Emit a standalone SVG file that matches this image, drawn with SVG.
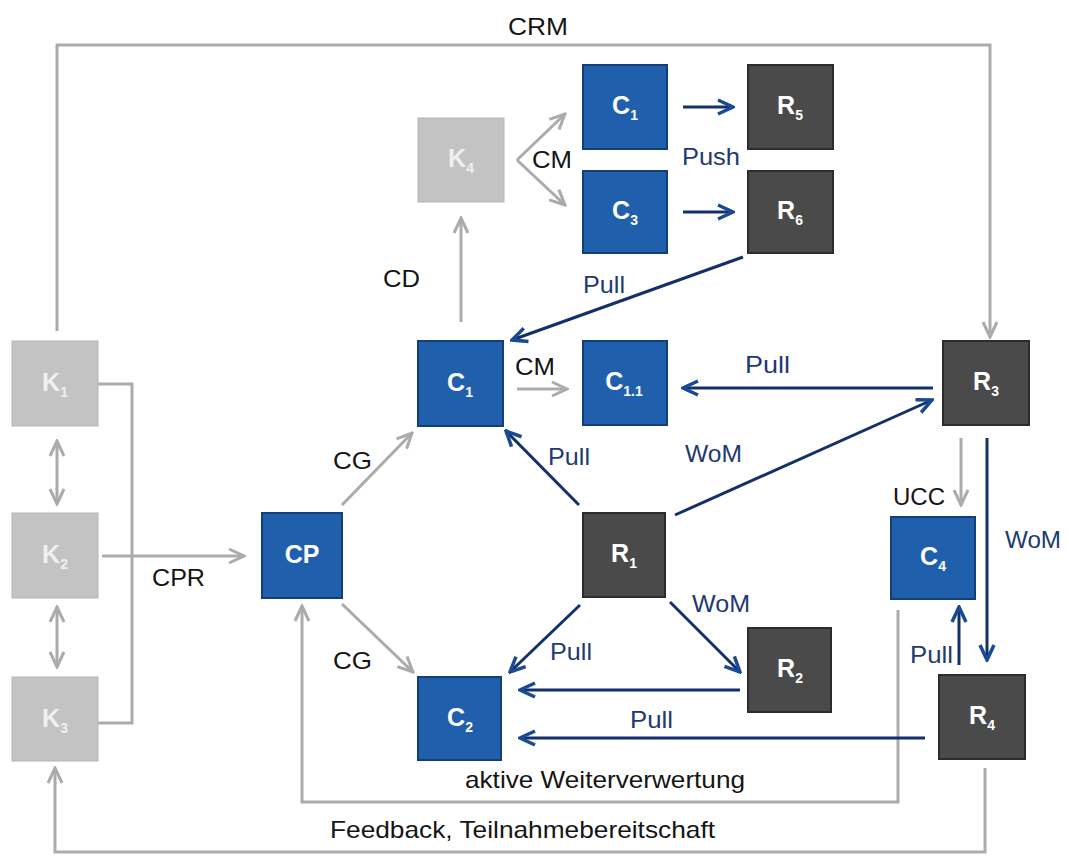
<svg xmlns="http://www.w3.org/2000/svg" width="1069" height="858" viewBox="0 0 1069 858">
<style>
.bl{fill:#1f5fab;stroke:#123f78;stroke-width:2}
.dk{fill:#4a4a4a;stroke:#2c2c2c;stroke-width:2}
.lg{fill:#c3c3c3;stroke:#b5b5b5;stroke-width:1}
.nl{font-family:"Liberation Sans",Arial,sans-serif;font-weight:bold;font-size:25px;fill:#fff;text-anchor:middle}
.kl{fill:#f0f0f0}
.sub{font-size:14px}
.g{fill:none;stroke:#ababab;stroke-width:3}
.n{fill:none;stroke:#14306b;stroke-width:3}
.t{font-family:"Liberation Sans",Arial,sans-serif;font-size:24px;fill:#151515}
.tb{fill:#1f3a72}
</style>
<defs>
<marker id="ag" viewBox="0 0 20 20" refX="18" refY="10" markerWidth="20" markerHeight="20" markerUnits="userSpaceOnUse" orient="auto-start-reverse"><path d="M3,3 L18,10 L3,17" fill="none" stroke="#ababab" stroke-width="3"/></marker>
<marker id="an" viewBox="0 0 20 20" refX="18" refY="10" markerWidth="20" markerHeight="20" markerUnits="userSpaceOnUse" orient="auto"><path d="M3,3 L18,10 L3,17" fill="none" stroke="#1a4a92" stroke-width="3.5"/></marker>
</defs>
<g id="connectors">
<polyline class="g" points="57,331 57,45 990,45 990,337" marker-end="url(#ag)"/>
<line class="g" x1="57" y1="441" x2="57" y2="504" marker-start="url(#ag)" marker-end="url(#ag)"/>
<line class="g" x1="57" y1="607" x2="57" y2="667" marker-start="url(#ag)" marker-end="url(#ag)"/>
<polyline class="g" points="98,384 132,384 132,723 98,723"/>
<line class="g" x1="102" y1="556" x2="244" y2="556" marker-end="url(#ag)"/>
<line class="g" x1="342" y1="505" x2="412" y2="433" marker-end="url(#ag)"/>
<line class="g" x1="342" y1="604" x2="413" y2="672" marker-end="url(#ag)"/>
<line class="g" x1="461" y1="322" x2="461" y2="218" marker-end="url(#ag)"/>
<line class="g" x1="517" y1="160" x2="565" y2="114" marker-end="url(#ag)"/>
<line class="g" x1="517" y1="160" x2="565" y2="205" marker-end="url(#ag)"/>
<line class="g" x1="517" y1="389" x2="567" y2="389" marker-end="url(#ag)"/>
<line class="g" x1="961" y1="438" x2="961" y2="505" marker-end="url(#ag)"/>
<polyline class="g" points="898,610 898,802 302,802 302,606" marker-end="url(#ag)"/>
<polyline class="g" points="985,768 985,852 55,852 55,768" marker-end="url(#ag)"/>
<line class="n" x1="683" y1="107" x2="733" y2="107" marker-end="url(#an)"/>
<line class="n" x1="683" y1="212" x2="733" y2="212" marker-end="url(#an)"/>
<line class="n" x1="743" y1="257" x2="512" y2="340" marker-end="url(#an)"/>
<line class="n" x1="933" y1="388" x2="683" y2="388" marker-end="url(#an)"/>
<line class="n" x1="579" y1="505" x2="506" y2="431" marker-end="url(#an)"/>
<line class="n" x1="675" y1="515" x2="932" y2="400" marker-end="url(#an)"/>
<line class="n" x1="580" y1="605" x2="510" y2="672" marker-end="url(#an)"/>
<line class="n" x1="670" y1="602" x2="740" y2="672" marker-end="url(#an)"/>
<line class="n" x1="740" y1="690" x2="520" y2="690" marker-end="url(#an)"/>
<line class="n" x1="925" y1="738" x2="520" y2="738" marker-end="url(#an)"/>
<line class="n" x1="987" y1="438" x2="987" y2="660" marker-end="url(#an)"/>
<line class="n" x1="959" y1="665" x2="959" y2="607" marker-end="url(#an)"/>
</g>
<g id="labels">
<text class="t" x="508" y="35" textLength="60" lengthAdjust="spacingAndGlyphs">CRM</text>
<text class="t" x="532" y="168" textLength="40" lengthAdjust="spacingAndGlyphs">CM</text>
<text class="t tb" x="682" y="165" textLength="58" lengthAdjust="spacingAndGlyphs">Push</text>
<text class="t" x="383" y="287" textLength="37" lengthAdjust="spacingAndGlyphs">CD</text>
<text class="t tb" x="583" y="293" textLength="42" lengthAdjust="spacingAndGlyphs">Pull</text>
<text class="t" x="515" y="375" textLength="40" lengthAdjust="spacingAndGlyphs">CM</text>
<text class="t tb" x="745" y="373" textLength="45" lengthAdjust="spacingAndGlyphs">Pull</text>
<text class="t" x="333" y="469" textLength="39" lengthAdjust="spacingAndGlyphs">CG</text>
<text class="t tb" x="548" y="465" textLength="42" lengthAdjust="spacingAndGlyphs">Pull</text>
<text class="t tb" x="685" y="462" textLength="57" lengthAdjust="spacingAndGlyphs">WoM</text>
<text class="t" x="893" y="505" textLength="52" lengthAdjust="spacingAndGlyphs">UCC</text>
<text class="t tb" x="1005" y="548" textLength="56" lengthAdjust="spacingAndGlyphs">WoM</text>
<text class="t" x="152" y="586" textLength="53" lengthAdjust="spacingAndGlyphs">CPR</text>
<text class="t tb" x="692" y="612" textLength="58" lengthAdjust="spacingAndGlyphs">WoM</text>
<text class="t tb" x="550" y="660" textLength="42" lengthAdjust="spacingAndGlyphs">Pull</text>
<text class="t" x="333" y="669" textLength="39" lengthAdjust="spacingAndGlyphs">CG</text>
<text class="t tb" x="910" y="663" textLength="43" lengthAdjust="spacingAndGlyphs">Pull</text>
<text class="t tb" x="630" y="728" textLength="43" lengthAdjust="spacingAndGlyphs">Pull</text>
<text class="t" x="465" y="788" textLength="280" lengthAdjust="spacingAndGlyphs">aktive Weiterverwertung</text>
<text class="t" x="330" y="838" textLength="385" lengthAdjust="spacingAndGlyphs">Feedback, Teilnahmebereitschaft</text>
</g>
<g id="K1"><rect class="lg" x="12" y="341" width="86" height="85"/><text class="nl kl" x="55" y="391">K<tspan class="sub" dy="6">1</tspan></text></g>
<g id="K2"><rect class="lg" x="12" y="513" width="86" height="85"/><text class="nl kl" x="55" y="563">K<tspan class="sub" dy="6">2</tspan></text></g>
<g id="K3"><rect class="lg" x="12" y="677" width="86" height="84"/><text class="nl kl" x="55" y="727">K<tspan class="sub" dy="6">3</tspan></text></g>
<g id="K4"><rect class="lg" x="418" y="118" width="86" height="84"/><text class="nl kl" x="461" y="167">K<tspan class="sub" dy="6">4</tspan></text></g>
<g id="C1top"><rect class="bl" x="583" y="65" width="84" height="84"/><text class="nl" x="625" y="114">C<tspan class="sub" dy="6">1</tspan></text></g>
<g id="C3"><rect class="bl" x="583" y="171" width="84" height="82"/><text class="nl" x="625" y="219">C<tspan class="sub" dy="6">3</tspan></text></g>
<g id="R5"><rect class="dk" x="748" y="65" width="85" height="84"/><text class="nl" x="790" y="114">R<tspan class="sub" dy="6">5</tspan></text></g>
<g id="R6"><rect class="dk" x="748" y="171" width="85" height="82"/><text class="nl" x="790" y="219">R<tspan class="sub" dy="6">6</tspan></text></g>
<g id="C1"><rect class="bl" x="418" y="341" width="85" height="85"/><text class="nl" x="460" y="391">C<tspan class="sub" dy="6">1</tspan></text></g>
<g id="C11"><rect class="bl" x="583" y="341" width="84" height="84"/><text class="nl" x="624" y="390">C<tspan class="sub" dy="6">1.1</tspan></text></g>
<g id="R3"><rect class="dk" x="943" y="341" width="86" height="84"/><text class="nl" x="986" y="390">R<tspan class="sub" dy="6">3</tspan></text></g>
<g id="CP"><rect class="bl" x="262" y="513" width="80" height="85"/><text class="nl" x="302" y="563">CP</text></g>
<g id="R1"><rect class="dk" x="583" y="513" width="82" height="84"/><text class="nl" x="624" y="562">R<tspan class="sub" dy="6">1</tspan></text></g>
<g id="C4"><rect class="bl" x="891" y="517" width="84" height="82"/><text class="nl" x="933" y="565">C<tspan class="sub" dy="6">4</tspan></text></g>
<g id="R2"><rect class="dk" x="748" y="628" width="83" height="84"/><text class="nl" x="790" y="677">R<tspan class="sub" dy="6">2</tspan></text></g>
<g id="C2"><rect class="bl" x="418" y="677" width="83" height="83"/><text class="nl" x="460" y="726">C<tspan class="sub" dy="6">2</tspan></text></g>
<g id="R4"><rect class="dk" x="939" y="675" width="86" height="84"/><text class="nl" x="982" y="724">R<tspan class="sub" dy="6">4</tspan></text></g>
</svg>
